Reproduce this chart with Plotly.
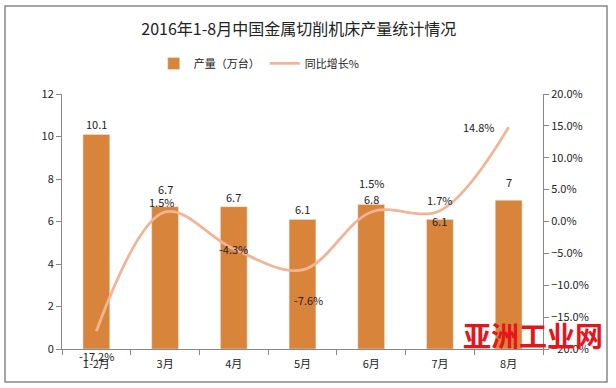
import plotly.graph_objects as go

categories = ["1-2月", "3月", "4月", "5月", "6月", "7月", "8月"]
output_wan = [10.1, 6.7, 6.7, 6.1, 6.8, 6.1, 7]
growth_pct = [-17.2, 1.5, -4.3, -7.6, 1.5, 1.7, 14.8]
bar_label_shift = [0, 8, 0, 0, -4, -12, 8]
line_label_shift = [(0, -25), (-4, 10), (0, 0), (6, -30), (0, 29), (0, 11), (-30, 0)]

bar_color = "#D9843B"
line_color = "#F2B494"

fig = go.Figure()
fig.add_trace(go.Bar(x=categories, y=output_wan, name="产量（万台）",
                     marker_color=bar_color, width=0.39))
fig.add_trace(go.Scatter(x=categories, y=growth_pct, name="同比增长%", yaxis="y2",
                         mode="lines", line=dict(color=line_color, width=2.8, shape="spline", smoothing=1.0)))

annos = []
for c, v, s in zip(categories, output_wan, bar_label_shift):
    annos.append(dict(x=c, y=v, xref="x", yref="y", text=f"{v:g}", showarrow=False,
                      yanchor="bottom", yshift=s, font=dict(size=11, color="#222")))
for c, v, (dx, dy) in zip(categories, growth_pct, line_label_shift):
    annos.append(dict(x=c, y=v, xref="x", yref="y2", text=f"{v:.1f}%", showarrow=False,
                      xshift=dx, yshift=dy, font=dict(size=11, color="#222")))
annos.append(dict(x=0.98, y=-0.03, xref="paper", yref="paper", text="<b>亚洲工业网</b>",
                  showarrow=False, xanchor="center", yanchor="bottom",
                  font=dict(size=28, color="#E8141C", family="Noto Sans CJK SC")))

fig.update_layout(
    width=616, height=388,
    margin=dict(l=62, r=73, t=94, b=39),
    paper_bgcolor="white", plot_bgcolor="white",
    font=dict(family="Noto Sans CJK SC, DejaVu Sans", size=11, color="#333"),
    title=dict(text="2016年1-8月中国金属切削机床产量统计情况", x=0.485, xanchor="center",
               y=0.925, yanchor="middle", font=dict(size=16, color="#222")),
    legend=dict(orientation="h", x=0.41, xanchor="center", y=1.12, yanchor="middle",
                font=dict(size=11, color="#222"), itemwidth=30),
    bargap=0.6,
    xaxis=dict(showline=True, linecolor="#888", ticks="outside", tickson="boundaries",
               ticklen=5, tickcolor="#888", showgrid=False, ticklabelstandoff=5,
               tickfont=dict(size=11, color="#222")),
    yaxis=dict(range=[0, 12], dtick=2, showline=True, linecolor="#888", ticks="outside",
               ticklen=5, tickcolor="#888", showgrid=False, zeroline=False,
               tickfont=dict(size=11, color="#222")),
    yaxis2=dict(range=[-20, 20], dtick=5, overlaying="y", side="right", showline=True,
                linecolor="#888", ticks="outside", ticklen=5, tickcolor="#888",
                showgrid=False, zeroline=False, ticksuffix="%", tickformat=".1f",
                tickfont=dict(size=11, color="#222")),
    annotations=annos,
    shapes=[dict(type="rect", xref="paper", yref="paper", layer="above",
                 x0=(5 - 62) / 481, x1=(607 - 62) / 481,
                 y0=(349 - 382) / 255, y1=(349 - 6) / 255,
                 line=dict(color="#888", width=1.5))],
)
fig.write_html("out.html", config={"displayModeBar": False},
               post_script="document.body.style.margin='0px';")
